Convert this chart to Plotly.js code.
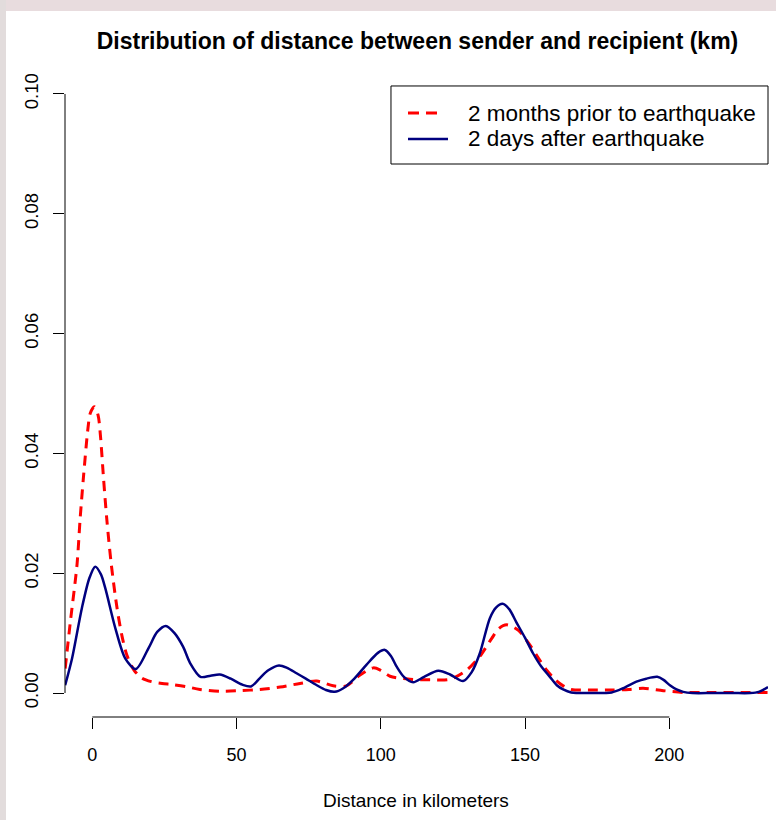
<!DOCTYPE html>
<html>
<head>
<meta charset="utf-8">
<script src="https://cdn.plot.ly/plotly-3.0.1.min.js"></script>
<style>
html,body{margin:0;padding:0;background:#fff;}
#chart{width:776px;height:820px;}
</style>
</head>
<body>
<div id="chart"></div>
<script>
// Series: 2 months prior to earthquake (red dashed)
var xBefore = [-9.4,-7.6,-5.3,-4.2,-3.0,-1.5,-0.7,0.7,2.0,2.8,3.9,5.1,6.6,8.6,10.3,12.0,14.5,17.2,20.5,24.2,28,32.2,37.3,44.2,51.2,58.1,65.1,72,77.8,83.5,88.1,92.8,97.4,100,103.2,110.1,117,124,129.7,134.3,138.4,141,143.6,147.6,151.7,154.5,157.5,160.5,163.2,166,172,180,186,190.9,197.9,204.8,215,225,234.2];
var yBefore = [0.0041,0.0119,0.0214,0.0292,0.0364,0.0442,0.0467,0.0478,0.0464,0.0431,0.0358,0.0286,0.0214,0.0141,0.0095,0.0063,0.0038,0.0025,0.0019,0.0016,0.0014,0.0011,0.0006,0.0003,0.0004,0.0006,0.0010,0.0016,0.0020,0.0012,0.0012,0.0030,0.0042,0.0038,0.0028,0.0023,0.0022,0.0023,0.0038,0.0061,0.0091,0.0108,0.0114,0.0105,0.0080,0.0059,0.0038,0.0022,0.0012,0.0006,0.0005,0.0005,0.0006,0.0008,0.0004,0.0001,0.0001,0.0001,0.0001];

// Series: 2 days after earthquake (navy solid)
var xAfter = [-9.4,-7,-3.6,-1,1,3,4.5,8,11.4,15.1,19.5,22.5,25.5,28.5,31.5,33.9,37.5,41,44.2,48,52,55,58.1,61,64.7,67.5,70.8,74,77.8,81,84,87,90.4,95,99,101.4,103.5,105.5,108,111.2,115,119.9,124,128.5,131.5,134.3,137.8,140,142.2,144.5,147,150,152.8,155.5,158.6,161,163.2,166,172,180,184,188.6,192,195.8,198,200.2,202.5,204.8,208,215,222,228,231,234.2];
var yAfter = [0.0013,0.0058,0.0142,0.0192,0.0211,0.0198,0.0175,0.0108,0.0058,0.0040,0.0075,0.0102,0.0112,0.0100,0.0077,0.0050,0.0027,0.0029,0.0031,0.0024,0.0014,0.0011,0.0025,0.0038,0.0046,0.0042,0.0033,0.0024,0.0013,0.0005,0.0002,0.0008,0.0022,0.0047,0.0067,0.0072,0.0062,0.0044,0.0027,0.0018,0.0027,0.0037,0.0031,0.0020,0.0035,0.0066,0.0125,0.0143,0.0149,0.0140,0.0118,0.0092,0.0066,0.0045,0.0027,0.0013,0.0006,0.0001,0.0000,0.0001,0.0008,0.0019,0.0024,0.0027,0.0022,0.0013,0.0006,0.0002,0.0000,0.0000,0.0000,0.0000,0.0002,0.0010];

var seriesNames = ["2 months prior to earthquake", "2 days after earthquake"];
var xTickVals = [0, 50, 100, 150, 200];
var xTickText = ["0", "50", "100", "150", "200"];
var yTickVals = [0, 0.02, 0.04, 0.06, 0.08, 0.10];
var yTickText = ["0.00", "0.02", "0.04", "0.06", "0.08", "0.10"];

var FONT = "Liberation Sans, Arial, Helvetica, sans-serif";
var RED = "#ff0000";
var NAVY = "#00007f";

var traces = [
  {x: xBefore, y: yBefore, type: "scatter", mode: "lines", name: seriesNames[0],
   line: {color: RED, width: 3, dash: "10px,7px", shape: "spline", smoothing: 0.8}, hoverinfo: "x+y"},
  {x: xAfter, y: yAfter, type: "scatter", mode: "lines", name: seriesNames[1],
   line: {color: NAVY, width: 2.5, shape: "spline", smoothing: 0.8}, hoverinfo: "x+y"}
];

// legend geometry (paper coords)
var lgX0 = 0.4637, lgX1 = 1.0, lgY0 = 0.8547, lgY1 = 0.9753;
var rowRed = 0.9335, rowBlue = 0.8934;
var sampleX0 = (408-65)/703, sampleRedX1 = (440-65)/703, sampleBlueX1 = (448-65)/703;
var textX = (466-65)/703;

var layout = {
  width: 776, height: 820,
  margin: {l: 65, r: 8, t: 70, b: 103, pad: 0},
  paper_bgcolor: "#ffffff", plot_bgcolor: "#ffffff",
  showlegend: false,
  font: {family: FONT, color: "#000"},
  title: {text: "Distribution of distance between sender and recipient (km)",
    font: {family: FONT, size: 23, weight: "bold", color: "#000"},
    xref: "container", x: 417.5/776, xanchor: "center",
    yref: "container", y: 1 - 41/820, yanchor: "middle"},
  xaxis: {range: [-9.46, 234.2], showgrid: false, zeroline: false, showline: false,
    tickmode: "array", tickvals: xTickVals, ticktext: xTickText,
    ticks: "outside", ticklen: 11, tickwidth: 1, tickcolor: "#000",
    tickfont: {family: FONT, size: 18, color: "#000"}, ticklabelstandoff: 10},
  yaxis: {range: [-0.004, 0.104], showgrid: false, zeroline: false, showline: false,
    tickmode: "array", tickvals: yTickVals, ticktext: yTickText,
    ticks: "outside", ticklen: 11, tickwidth: 1, tickcolor: "#000", tickangle: -90,
    tickfont: {family: FONT, size: 18.5, color: "#000"}, ticklabelstandoff: 8},
  shapes: [
    // background strips (screenshot border)
    {type: "rect", xref: "paper", yref: "paper", x0: -65/703, x1: 711/703, y0: (717-0)/647, y1: (717-11)/647,
     fillcolor: "#e8dcde", line: {width: 0}, layer: "below"},
    {type: "rect", xref: "paper", yref: "paper", x0: -65/703, x1: -59/703, y0: -103/647, y1: 717/647,
     fillcolor: "#e2dcdc", line: {width: 0}, layer: "below"},
    // axis lines (R style, only over tick span)
    {type: "line", xref: "paper", yref: "y", x0: 0, x1: 0, y0: 0, y1: 0.10, line: {color: "#000", width: 1}},
    {type: "line", xref: "x", yref: "paper", x0: 0, x1: 200, y0: 0, y1: 0, line: {color: "#000", width: 1}},
    // legend box
    {type: "rect", xref: "paper", yref: "paper", x0: lgX0, x1: lgX1, y0: lgY0, y1: lgY1,
     line: {color: "#000", width: 1}, fillcolor: "rgba(255,255,255,1)"},
    {type: "line", xref: "paper", yref: "paper", x0: sampleX0, x1: sampleRedX1, y0: rowRed, y1: rowRed,
     line: {color: RED, width: 3, dash: "11px,7px"}},
    {type: "line", xref: "paper", yref: "paper", x0: sampleX0, x1: sampleBlueX1, y0: rowBlue, y1: rowBlue,
     line: {color: NAVY, width: 2.5}}
  ],
  annotations: [
    {text: seriesNames[0], xref: "paper", yref: "paper", x: textX, y: rowRed, xanchor: "left", yanchor: "middle",
     showarrow: false, font: {family: FONT, size: 22.5, color: "#000"}},
    {text: seriesNames[1], xref: "paper", yref: "paper", x: textX, y: rowBlue, xanchor: "left", yanchor: "middle",
     showarrow: false, font: {family: FONT, size: 22.5, color: "#000"}},
    {text: "Distance in kilometers", xref: "paper", yref: "paper", x: (416-65)/703, y: (717-800)/647,
     xanchor: "center", yanchor: "middle", showarrow: false, font: {family: FONT, size: 19, color: "#000"}}
  ]
};

Plotly.newPlot("chart", traces, layout, {displayModeBar: false, staticPlot: true});
</script>
</body>
</html>
